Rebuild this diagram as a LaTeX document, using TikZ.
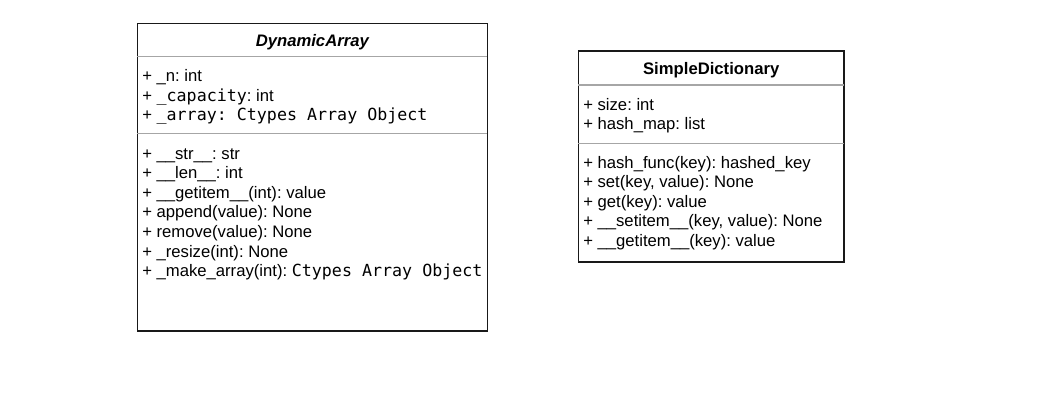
\documentclass[tikz,border=0pt]{standalone}
\usepackage{fontspec}
\setmainfont{Liberation Sans}
\newfontfamily\codefont{DejaVu Sans Mono}
\newcommand{\cd}[1]{{\codefont #1}}
\frenchspacing
\begin{document}
\begin{tikzpicture}[x=0.75pt,y=-0.75pt,
  umlbox/.style={draw=black!90,line width=1.2pt},
  umlrule/.style={draw=gray!70,line width=0.8pt},
  row/.style={anchor=base west,inner sep=0pt,font=\fontsize{12.5}{14.6}\selectfont},
  title/.style={anchor=base,inner sep=0pt,font=\fontsize{12.5}{14.6}\selectfont\bfseries}]
\useasboundingbox[fill=white] (0,0) rectangle (1054,408);
% DynamicArray
\draw[umlbox] (137.3,23.3) rectangle (487.3,331);
\draw[umlrule] (137.3,56.7) -- (487.3,56.7);
\draw[umlrule] (137.3,133.3) -- (487.3,133.3);
\node[title,font=\fontsize{12.5}{14.6}\selectfont\bfseries\itshape] (arrname) at (312.3,46) {DynamicArray};
\node[row] (arrn) at (142,81.5) {+ \_n: int};
\node[row] (arrcap) at (142,101.1) {+ \cd{\_capacity}: int};
\node[row] (arrarr) at (142,120.7) {+ \cd{\_array: Ctypes Array Object}};
\node[row] (arrstr) at (142,159) {+ \_\_str\_\_: str};
\node[row] (arrlen) at (142,178.6) {+ \_\_len\_\_: int};
\node[row] (arrget) at (142,198.2) {+ \_\_getitem\_\_(int): value};
\node[row] (arrapp) at (142,217.8) {+ append(value): None};
\node[row] (arrrem) at (142,237.4) {+ remove(value): None};
\node[row] (arrres) at (142,257) {+ \_resize(int): None};
\node[row] (arrmake) at (142,276.6) {+ \_make\_array(int): \cd{Ctypes Array Object}};
% SimpleDictionary
\draw[umlbox] (578.3,51) rectangle (844,261.7);
\draw[umlrule] (578.3,85) -- (844,85);
\draw[umlrule] (578.3,143.3) -- (844,143.3);
\node[title] (dictname) at (711.2,74) {SimpleDictionary};
\node[row] (dictsize) at (583,110) {+ size: int};
\node[row] (dictmap) at (583,129.5) {+ hash\_map: list};
\node[row] (dicthash) at (583,168) {+ hash\_func(key): hashed\_key};
\node[row] (dictset) at (583,187.5) {+ set(key, value): None};
\node[row] (dictget) at (583,207) {+ get(key): value};
\node[row] (dictsetit) at (583,226.5) {+ \_\_setitem\_\_(key, value): None};
\node[row] (dictgetit) at (583,246) {+ \_\_getitem\_\_(key): value};
\end{tikzpicture}
\end{document}
